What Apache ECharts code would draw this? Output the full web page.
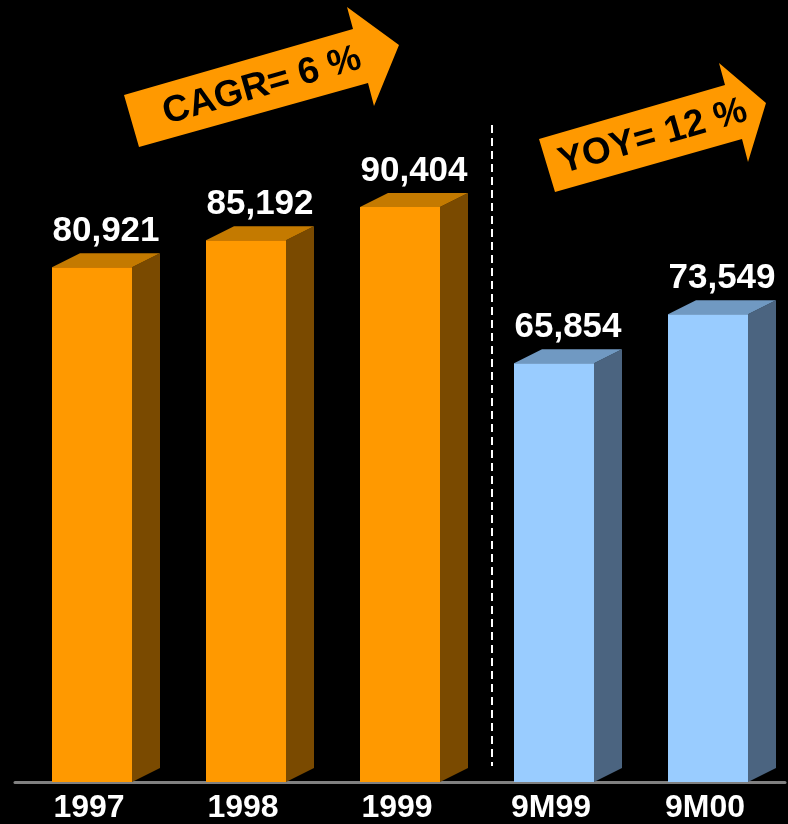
<!DOCTYPE html>
<html>
<head>
<meta charset="utf-8">
<script src="https://cdn.jsdelivr.net/npm/echarts@6/dist/echarts.min.js"></script>
<style>
  html, body { margin: 0; padding: 0; background: #000; }
  #chart { width: 788px; height: 824px; }
</style>
</head>
<body>
<div id="chart"></div>
<script>
const categories = ["1997", "1998", "1999", "9M99", "9M00"];
const values = [80921, 85192, 90404, 65854, 73549];
// which colour set each bar uses: full years vs nine-month figures
const groups = ["year", "year", "year", "ytd", "ytd"];

const cagrText = "CAGR= 6 %";
const yoyText = "YOY= 12 %";

const palette = {
  year: { front: "#FF9900", top: "#C47A00", side: "#7A4A00" },
  ytd: { front: "#99CCFF", top: "#7099C2", side: "#4B6480" },
};

const FONT = "'Liberation Sans', Arial, sans-serif";
const BAR_W = 80;
const DEPTH_X = 28;
const DEPTH_Y = 14;

function renderBar(params, api) {
  const idx = api.value(0);
  const base = api.coord([idx, 0]);
  const top = api.coord([idx, api.value(1)]);
  const colors = palette[groups[idx]];

  const x0 = base[0] - BAR_W / 2;
  const x1 = base[0] + BAR_W / 2;
  const yb = base[1];
  const yt = top[1];

  return {
    type: "group",
    children: [
      {
        type: "polygon",
        shape: {
          points: [
            [x1, yt],
            [x1 + DEPTH_X, yt - DEPTH_Y],
            [x1 + DEPTH_X, yb - DEPTH_Y],
            [x1, yb],
          ],
        },
        style: { fill: colors.side },
      },
      {
        type: "polygon",
        shape: {
          points: [
            [x0, yt],
            [x0 + DEPTH_X, yt - DEPTH_Y],
            [x1 + DEPTH_X, yt - DEPTH_Y],
            [x1, yt],
          ],
        },
        style: { fill: colors.top },
      },
      {
        type: "rect",
        shape: { x: x0, y: yt, width: BAR_W, height: yb - yt },
        style: { fill: colors.front },
      },
      {
        type: "text",
        x: base[0] + DEPTH_X / 2,
        y: yt - DEPTH_Y - 4,
        style: {
          text: api.value(1).toLocaleString("en-US"),
          fill: "#fff",
          font: `bold 35px ${FONT}`,
          align: "center",
          verticalAlign: "bottom",
        },
      },
    ],
  };
}

function arrow(points, label, center) {
  return [
    {
      type: "polygon",
      shape: { points },
      style: { fill: "#FF9900" },
      z: 10,
    },
    {
      type: "text",
      x: center[0],
      y: center[1],
      rotation: (16 * Math.PI) / 180,
      style: {
        text: label,
        fill: "#000",
        font: `bold 37px ${FONT}`,
        align: "center",
        verticalAlign: "middle",
      },
      z: 11,
    },
  ];
}

const chart = echarts.init(document.getElementById("chart"), undefined, {
  renderer: "canvas",
});

chart.setOption({
  animation: false,
  backgroundColor: "#000",
  grid: { left: 15, right: 3, top: 146, bottom: 42 },
  xAxis: {
    type: "category",
    data: categories,
    axisLine: { lineStyle: { color: "#808080", width: 3 } },
    axisTick: { show: false },
    axisLabel: {
      color: "#fff",
      fontFamily: FONT,
      fontWeight: "bold",
      fontSize: 32,
      margin: 10,
      padding: [0, 6, 0, 0],
    },
  },
  yAxis: {
    type: "value",
    min: 0,
    max: 100000,
    show: false,
    splitLine: { show: false },
  },
  series: [
    {
      type: "custom",
      renderItem: renderBar,
      data: values.map((v, i) => [i, v]),
      encode: { x: 0, y: 1 },
    },
  ],
  graphic: [
    {
      type: "line",
      shape: { x1: 492, y1: 125, x2: 492, y2: 766 },
      style: { stroke: "#fff", lineWidth: 2, lineDash: [8, 5] },
    },
    ...arrow(
      [[124, 95], [353, 29], [347, 7], [399, 45], [374, 106], [368, 83], [139, 147]],
      cagrText,
      [262, 86]
    ),
    ...arrow(
      [[539, 139], [725, 85], [719, 63], [766, 103], [748, 162], [742, 139], [555, 192]],
      yoyText,
      [653, 137]
    ),
  ],
});
</script>
</body>
</html>
